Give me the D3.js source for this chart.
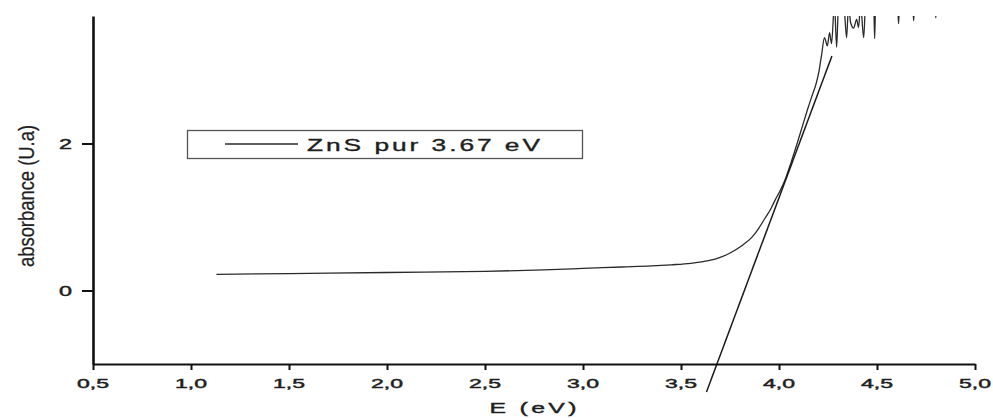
<!DOCTYPE html>
<html>
<head>
<meta charset="utf-8">
<script src="https://cdn.jsdelivr.net/npm/d3@7/dist/d3.min.js"></script>
<style>
  html, body { margin: 0; padding: 0; background: #fff; }
  svg { display: block; }
  text { font-family: "Liberation Sans", Arial, sans-serif; fill: #1e1e1e; stroke: #1e1e1e; stroke-width: 0.35; }
</style>
</head>
<body>
<svg id="chart" width="993" height="418"></svg>
<script>
// Measured absorption spectrum of pure ZnS (photon energy in eV vs absorbance)
const energy = [
  1.13, 1.5, 2.0, 2.5, 2.8, 3.0, 3.2, 3.35, 3.45, 3.55, 3.64, 3.70, 3.75, 3.81,
  3.86, 3.895, 3.93, 3.96, 3.98, 4.01, 4.03, 4.06, 4.09, 4.12, 4.15, 4.17, 4.19,
  4.205, 4.217, 4.232, 4.247, 4.258, 4.268, 4.283, 4.294, 4.304, 4.330, 4.345,
  4.355, 4.365, 4.381, 4.396, 4.406, 4.416, 4.432, 4.442, 4.483, 4.488, 4.493,
  4.605, 4.610, 4.615, 4.682, 4.687, 4.692, 4.795, 4.800, 4.805, 4.82
];
const absorbance = [
  0.22, 0.23, 0.245, 0.26, 0.28, 0.30, 0.32, 0.335, 0.35, 0.37, 0.405, 0.45, 0.51, 0.61,
  0.72, 0.84, 0.99, 1.12, 1.23, 1.38, 1.50, 1.73, 1.98, 2.24, 2.50, 2.66, 2.82,
  3.00, 3.20, 3.44, 3.33, 3.51, 3.36, 3.90, 3.31, 3.90, 3.90, 3.44,
  3.90, 3.65, 3.57, 3.69, 3.58, 3.90, 3.44, 3.90, 3.90, 3.43, 3.90,
  3.90, 3.63, 3.90, 3.90, 3.67, 3.90, 3.90, 3.71, 3.90, 3.90
];

// Linear fit of the absorption edge, extrapolated down to the energy axis
const fitEnergy = [3.63, 4.27];
const fitAbsorbance = [-1.38, 3.19];

// Axis ticks and labels
const xMajor = [0.5, 1.0, 1.5, 2.0, 2.5, 3.0, 3.5, 4.0, 4.5, 5.0];
const xTickLabels = ["0,5", "1,0", "1,5", "2,0", "2,5", "3,0", "3,5", "4,0", "4,5", "5,0"];
const xMinor = [0.75, 1.25, 1.75, 2.25, 2.75, 3.25, 3.75, 4.25, 4.75];
const yMajor = [0, 2];
const yTickLabels = ["0", "2"];
const yMinor = [1, 3];

const seriesName = "ZnS pur 3.67 eV";
const xTitle = "E (eV)";
const yTitle = "absorbance (U.a)";

const svg = d3.select("#chart");
const plotLeft = 93, plotRight = 975, plotTop = 16, plotBottom = 364;

const x = d3.scaleLinear().domain([0.5, 5.0]).range([plotLeft, plotRight]);
const y = d3.scaleLinear().domain([-1, 3.735]).range([plotBottom, plotTop]);

// Horizontally widened text: scale glyphs by sx, spread letters to the given width
function label(parent, str, o) {
  const g = parent.append("g")
    .attr("transform", `translate(${o.x},${o.y}) scale(${o.sx},1)` + (o.rotate ? ` rotate(${o.rotate})` : ""));
  const t = g.append("text")
    .attr("x", 0).attr("y", 0)
    .attr("text-anchor", o.anchor || "start")
    .style("font-size", o.size + "px")
    .text(str);
  const len = o.rotate ? o.width : o.width / o.sx;
  t.attr("textLength", len).attr("lengthAdjust", o.adjust || "spacing");
  if (o.stroke !== undefined) t.style("stroke-width", o.stroke);
  return t;
}

// Clip for the spectrum: values above the top of the frame are cut off
svg.append("clipPath").attr("id", "plotClip")
  .append("rect").attr("x", plotLeft).attr("y", plotTop)
  .attr("width", plotRight - plotLeft + 20).attr("height", plotBottom - plotTop);

const pts = energy.map((e, i) => [e, absorbance[i]]);
const line = d3.line().x(d => x(d[0])).y(d => y(d[1])).curve(d3.curveMonotoneX);

svg.append("path")
  .datum(pts)
  .attr("clip-path", "url(#plotClip)")
  .attr("d", line)
  .attr("fill", "none")
  .attr("stroke", "#2a2a2a")
  .attr("stroke-width", 1.3);

svg.append("path")
  .datum(fitEnergy.map((e, i) => [e, fitAbsorbance[i]]))
  .attr("d", d3.line().x(d => x(d[0])).y(d => y(d[1])))
  .attr("fill", "none")
  .attr("stroke", "#1a1a1a")
  .attr("stroke-width", 1.5);

// X axis
const xAxisG = svg.append("g").attr("transform", `translate(0,${plotBottom})`);
xAxisG.call(d3.axisBottom(x).tickValues(xMinor).tickSize(4).tickSizeOuter(0).tickFormat(""));
xAxisG.call(d3.axisBottom(x).tickValues(xMajor).tickSize(6).tickSizeOuter(0).tickFormat(""));
xAxisG.selectAll("path.domain").attr("stroke", "#111").attr("stroke-width", 2);
xAxisG.selectAll(".tick line").attr("stroke", "#111").attr("stroke-width", 2);

xMajor.forEach((v, i) => {
  label(svg, xTickLabels[i], { x: x(v), y: 388, sx: 1.85, width: 32, size: 13, anchor: "middle", adjust: "spacingAndGlyphs", stroke: 0.45 });
});

// Y axis
const yAxisG = svg.append("g").attr("transform", `translate(${plotLeft},0)`);
yAxisG.call(d3.axisLeft(y).tickValues(yMinor).tickSize(6).tickSizeOuter(0).tickFormat(""));
yAxisG.call(d3.axisLeft(y).tickValues(yMajor).tickSize(11).tickSizeOuter(0).tickFormat(""));
yAxisG.selectAll("path.domain").attr("stroke", "#111").attr("stroke-width", 2.6);
yAxisG.selectAll(".tick line").attr("stroke", "#111").attr("stroke-width", 2);

yMajor.forEach((v, i) => {
  label(svg, yTickLabels[i], { x: 72, y: y(v) + 5, sx: 1.8, width: 13, size: 14, anchor: "end", adjust: "spacingAndGlyphs", stroke: 0.45 });
});

// Axis titles
label(svg, xTitle, { x: 533, y: 413, sx: 1.6, width: 87, size: 15.5, anchor: "middle", stroke: 0.4 });
label(svg, yTitle, { x: 33.5, y: 196, sx: 1.25, width: 142, size: 18, anchor: "middle", rotate: -90, adjust: "spacingAndGlyphs", stroke: 0.2 });

// Legend
const legend = svg.append("g");
legend.append("rect")
  .attr("x", 187.5).attr("y", 130.5).attr("width", 395).attr("height", 28)
  .attr("fill", "#fff").attr("stroke", "#555").attr("stroke-width", 1.3);
legend.append("line")
  .attr("x1", 225).attr("x2", 298).attr("y1", 144).attr("y2", 144)
  .attr("stroke", "#2a2a2a").attr("stroke-width", 1.3);
label(legend, seriesName, { x: 307, y: 150.5, sx: 1.55, width: 233, size: 17, anchor: "start", stroke: 0.35 });
</script>
</body>
</html>
